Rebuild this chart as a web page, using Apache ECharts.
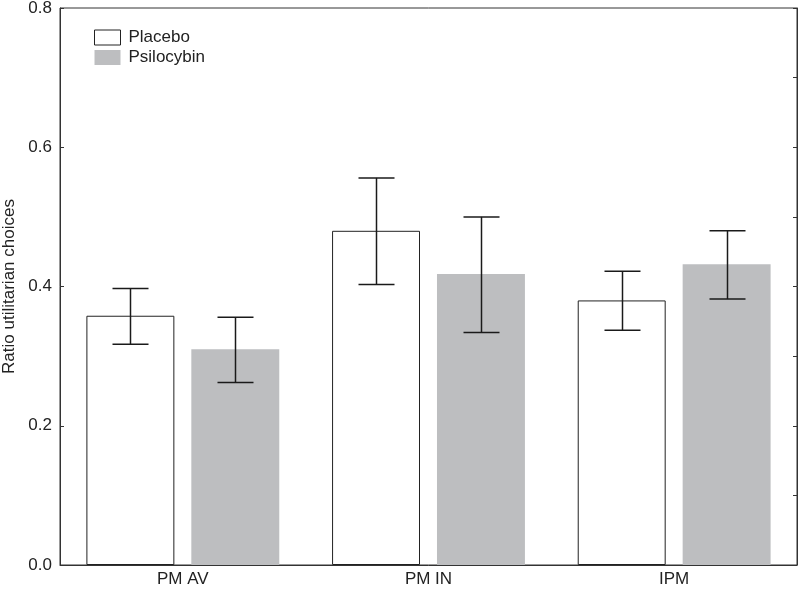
<!DOCTYPE html>
<html>
<head>
<meta charset="utf-8">
<script src="https://cdn.jsdelivr.net/npm/echarts@6/dist/echarts.min.js"></script>
<style>html,body{margin:0;padding:0;background:#fff}#c{width:800px;height:590px}</style>
</head>
<body>
<div id="c"></div>
<script>
var categories = ['PM AV', 'PM IN', 'IPM'];
var placebo = [0.358, 0.480, 0.380];
var placeboLow = [0.317, 0.403, 0.337];
var placeboHigh = [0.397, 0.556, 0.422];
var psilocybin = [0.310, 0.418, 0.432];
var psiloLow = [0.262, 0.334, 0.382];
var psiloHigh = [0.356, 0.500, 0.480];

var BAR_W = 0.358;   // fraction of band
var BAR_GAP = 0.193; // fraction of bar width

function errData(low, high) {
  return categories.map(function (c, i) { return [i, low[i], high[i]]; });
}
function errRender(side) {
  return function (params, api) {
    var idx = api.value(0);
    var band = api.size([1, 0])[0];
    var bw = band * BAR_W;
    var off = side * (bw + bw * BAR_GAP) / 2;
    var lo = api.coord([idx, api.value(1)]);
    var hi = api.coord([idx, api.value(2)]);
    var x = Math.round(lo[0] + off) + 0.5;
    var cap = 18;
    var st = { stroke: '#1a1a1a', lineWidth: 1.5 };
    return {
      type: 'group',
      children: [
        { type: 'line', shape: { x1: x, y1: hi[1], x2: x, y2: lo[1] }, style: st },
        { type: 'line', shape: { x1: x - cap, y1: hi[1], x2: x + cap, y2: hi[1] }, style: st },
        { type: 'line', shape: { x1: x - cap, y1: lo[1], x2: x + cap, y2: lo[1] }, style: st }
      ]
    };
  };
}

var FONT = 'Liberation Sans, Arial, sans-serif';
var chart = echarts.init(document.getElementById('c'), null, { renderer: 'canvas' });
chart.setOption({
  animation: false,
  backgroundColor: '#fff',
  textStyle: { fontFamily: FONT },
  grid: { left: 60, right: 3, top: 8, bottom: 25, show: true, borderColor: '#333', borderWidth: 1,
          containLabel: false, outerBoundsMode: 'none' },
  legend: {
    orient: 'vertical', left: 89, top: 24, itemWidth: 26, itemHeight: 15, itemGap: 3,
    textStyle: { fontSize: 17, color: '#222', fontFamily: FONT, padding: [0, 0, 0, 3] },
    data: [
      { name: 'Placebo', icon: 'rect', itemStyle: { color: '#fff', borderColor: '#222', borderWidth: 1 } },
      { name: 'Psilocybin', icon: 'rect', itemStyle: { color: '#bdbec0', borderWidth: 0 } }
    ]
  },
  xAxis: {
    type: 'category', data: categories,
    axisLine: { show: true, lineStyle: { color: '#333', width: 1 } },
    axisTick: { show: false },
    axisLabel: { fontSize: 17, color: '#222', margin: 6 }
  },
  yAxis: [
    {
      type: 'value', min: 0, max: 0.8, interval: 0.2, position: 'left',
      splitLine: { show: false },
      axisLine: { show: true, lineStyle: { color: '#333', width: 1 } },
      axisTick: { show: true, inside: true, length: 4, lineStyle: { color: '#333' } },
      axisLabel: { fontSize: 17, color: '#222', margin: 8, formatter: function (v) { return v.toFixed(1); } },
      name: 'Ratio utilitarian choices', nameLocation: 'middle', nameGap: 37,
      nameTextStyle: { fontSize: 17, color: '#222' }
    },
    {
      type: 'value', min: 0, max: 0.8, interval: 0.1, position: 'right',
      splitLine: { show: false },
      axisLine: { show: true, lineStyle: { color: '#333', width: 1 } },
      axisTick: { show: true, inside: true, length: 4, lineStyle: { color: '#333' } },
      axisLabel: { show: false }
    }
  ],
  series: [
    {
      name: 'Placebo', type: 'bar', data: placebo, barWidth: (BAR_W * 100) + '%', barGap: (BAR_GAP * 100) + '%',
      itemStyle: { color: '#fff', borderColor: '#222', borderWidth: 1 }, silent: true
    },
    {
      name: 'Psilocybin', type: 'bar', data: psilocybin, barWidth: (BAR_W * 100) + '%',
      itemStyle: { color: '#bdbec0', borderWidth: 0 }, silent: true
    },
    {
      type: 'custom', renderItem: errRender(-1), data: errData(placeboLow, placeboHigh),
      encode: { x: 0, y: [1, 2] }, z: 10, silent: true
    },
    {
      type: 'custom', renderItem: errRender(1), data: errData(psiloLow, psiloHigh),
      encode: { x: 0, y: [1, 2] }, z: 10, silent: true
    }
  ]
});
</script>
</body>
</html>
